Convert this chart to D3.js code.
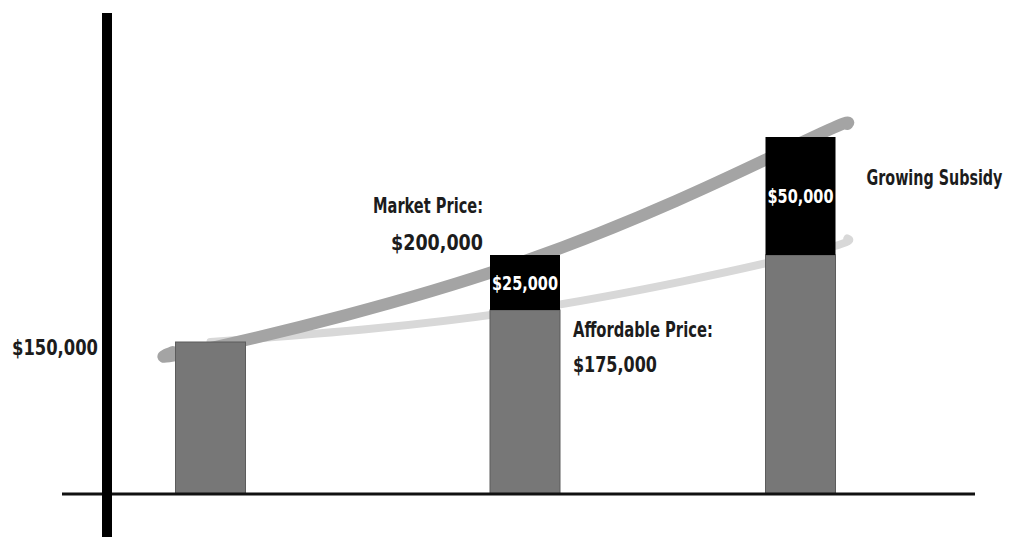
<!DOCTYPE html>
<html>
<head>
<meta charset="utf-8">
<script src="https://cdn.jsdelivr.net/npm/d3@7"></script>
<style>
  html, body { margin: 0; padding: 0; background: #fff; }
  svg { display: block; }
  .lbl { font-family: "DejaVu Sans Condensed", "DejaVu Sans", sans-serif; font-stretch: condensed; font-weight: bold; fill: #1c1c1c; }
</style>
</head>
<body>
<svg id="chart" width="1009" height="541"></svg>
<script>
// Three stages of home prices: what buyers can afford vs. the market price.
const stages = ["Stage 1", "Stage 2", "Stage 3"];
const affordable = [150000, 175000, 200000];
const market = [150000, 200000, 250000];

// Trend strokes as [stage position, price]; the ends run a little past the bars.
const marketTrend = [[-0.12, 146000], [0, 150000], [1, 200000], [2, 250000], [2.17, 258000]];
const affordableTrend = [[0, 150000], [1, 175000], [2, 200000], [2.17, 207000]];

const subsidy = market.map((m, i) => m - affordable[i]);
const money = d3.format("$,");

const svg = d3.select("#chart");

// Stage positions along the x axis (not evenly spaced).
const x = d3.scaleLinear().domain([0, 1, 2]).range([210.5, 525, 800.5]);
// Schematic price scale.
const y = d3.scaleLinear()
  .domain([0, 150000, 175000, 200000, 250000])
  .range([494, 342, 310, 255, 137]);

const barW = 70;
const axisX = 107;

// Trend curves sit behind the bars.
const line = d3.line()
  .x(d => x(d[0]))
  .y(d => y(d[1]))
  .curve(d3.curveNatural);

svg.append("path")
  .datum(affordableTrend)
  .attr("d", line)
  .attr("fill", "none")
  .attr("stroke", "#d8d8d8")
  .attr("stroke-width", 8)
  .attr("stroke-linecap", "round");

svg.append("path")
  .datum(marketTrend)
  .attr("d", line)
  .attr("transform", "translate(0,6)")
  .attr("fill", "none")
  .attr("stroke", "#a4a4a4")
  .attr("stroke-width", 12)
  .attr("stroke-linecap", "round");

// Affordable-price bars (gray).
svg.selectAll("rect.afford")
  .data(stages)
  .join("rect")
  .attr("class", "afford")
  .attr("x", (d, i) => x(i) - barW / 2)
  .attr("y", (d, i) => y(affordable[i]))
  .attr("width", barW)
  .attr("height", (d, i) => y(0) - y(affordable[i]))
  .attr("fill", "#777777")
  .attr("stroke", "#5c5c5c")
  .attr("stroke-width", 1);

// Subsidy gap stacked on top (black).
const gaps = stages.map((s, i) => ({ i, value: subsidy[i] })).filter(d => d.value > 0);

svg.selectAll("rect.gap")
  .data(gaps)
  .join("rect")
  .attr("class", "gap")
  .attr("x", d => x(d.i) - barW / 2)
  .attr("y", d => y(market[d.i]))
  .attr("width", barW)
  .attr("height", d => y(affordable[d.i]) - y(market[d.i]))
  .attr("fill", "#000");

// Narrow, hand-lettered look: set the text, then squeeze it horizontally to a target width.
function squeezed(text, px, py, anchor, size, width, color) {
  const t = svg.append("text")
    .attr("class", "lbl")
    .attr("text-anchor", anchor)
    .style("font-size", size + "px")
    .text(text);
  if (color) t.style("fill", color);
  const natural = t.node().getComputedTextLength();
  const sx = Math.min(1, width / natural);
  t.attr("transform", `translate(${px},${py}) scale(${sx},1)`);
  return t;
}

gaps.forEach(d => {
  squeezed(money(d.value), x(d.i), (y(affordable[d.i]) + y(market[d.i])) / 2 + 7,
    "middle", 19, 66, "#fff");
});

// Axes.
svg.append("line")
  .attr("x1", 62).attr("x2", 975)
  .attr("y1", y(0)).attr("y2", y(0))
  .attr("stroke", "#111").attr("stroke-width", 3);

svg.append("line")
  .attr("x1", axisX).attr("x2", axisX)
  .attr("y1", 13).attr("y2", 537)
  .attr("stroke", "#000").attr("stroke-width", 10);

// Annotations.
squeezed(money(affordable[0]), axisX - 9, y(affordable[0]) + 13, "end", 21, 86);
squeezed("Market Price:", x(1) - barW / 2 - 7, y(market[1]) - 42, "end", 21, 110);
squeezed(money(market[1]), x(1) - barW / 2 - 7, y(market[1]) - 5, "end", 21, 92);
squeezed("Affordable Price:", x(1) + barW / 2 + 13, y(affordable[1]) + 27, "start", 21, 140);
squeezed(money(affordable[1]), x(1) + barW / 2 + 13, y(affordable[1]) + 62, "start", 21, 84);
squeezed("Growing Subsidy", x(2) + barW / 2 + 31, y(market[2]) + 48, "start", 21, 136);
</script>
</body>
</html>
